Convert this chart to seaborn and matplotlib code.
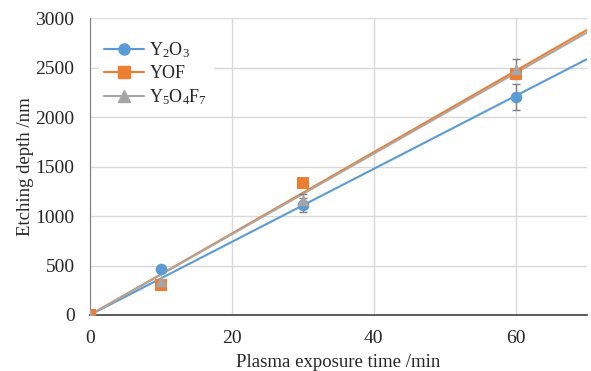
import numpy as np
import pandas as pd
import matplotlib
matplotlib.use("Agg")
import matplotlib.pyplot as plt
from matplotlib.lines import Line2D
import seaborn as sns

# data
time = [0, 10, 30, 60]
y2o3 = [0, 460, 1110, 2200]
y2o3_err = [0, 0, 70, 130]
yof = [0, 300, 1330, 2440]
yof_err = [0, 0, 0, 0]
y5o4f7 = [0, 340, 1160, 2490]
y5o4f7_err = [0, 0, 60, 100]

names = ["Y$_2$O$_3$", "YOF", "Y$_5$O$_4$F$_7$"]
colors = ["#5B9BD5", "#ED7D31", "#A5A5A5"]
line_colors = ["#5B9BD5", "#ED7D31", "#B0A59C"]
markers = ["o", "s", "^"]

sns.set_style("whitegrid")
plt.rcParams['font.family'] = ['Liberation Serif', 'DejaVu Serif']
plt.rcParams['mathtext.fontset'] = 'custom'
plt.rcParams['mathtext.rm'] = 'Liberation Serif'
plt.rcParams['mathtext.it'] = 'Liberation Serif'

fig = plt.figure(figsize=(5.91, 3.71), dpi=100)
ax = fig.add_axes([0.152, 0.151, 0.841, 0.80])

series = [(y2o3, y2o3_err), (yof, yof_err), (y5o4f7, y5o4f7_err)]
x = np.array(time, dtype=float)
xfit = np.array([0, 70.0])
handles = []
for (vals, err), name, c, lc, m in zip(series, names, colors, line_colors, markers):
    v = np.array(vals, dtype=float)
    # linear fit through origin
    slope = (x * v).sum() / (x * x).sum()
    fit = pd.DataFrame({"t": xfit, "d": slope * xfit})
    sns.lineplot(data=fit, x="t", y="d", color=lc, lw=1.5, ax=ax, zorder=2)
    ax.errorbar(x, v, yerr=err, fmt="none", ecolor="#7F7F7F", elinewidth=1,
                capsize=3, capthick=1, zorder=3)
    df = pd.DataFrame({"t": x, "d": v})
    sns.scatterplot(data=df, x="t", y="d", color=c, marker=m, s=70,
                    edgecolor=c, linewidth=0, ax=ax, zorder=4)
    handles.append(Line2D([], [], color=c, marker=m, markersize=8, lw=1.5, label=name))

ax.set_xlim(0, 70)
ax.set_ylim(0, 3000)
ax.set_xticks([0, 20, 40, 60])
ax.set_yticks(range(0, 3001, 500))
ax.grid(True, color="#D9D9D9", lw=1)
for s in ["top", "right"]:
    ax.spines[s].set_visible(False)
ax.spines["left"].set_color("#7F7F7F")
ax.spines["bottom"].set_color("#404040")
ax.spines["bottom"].set_linewidth(1.2)
ax.tick_params(axis="x", labelsize=14, length=0, pad=11)
ax.tick_params(axis="y", labelsize=14, length=0, pad=11)
ax.set_xlabel("Plasma exposure time /min", fontsize=13.5, labelpad=5)
ax.set_ylabel("Etching depth /nm", fontsize=13.5, labelpad=1)

ax.legend(handles=handles, loc="upper left", bbox_to_anchor=(0.0, 0.975),
          frameon=True, facecolor="white", edgecolor="white", framealpha=1,
          fontsize=13, handlelength=2.2, labelspacing=0.3, borderpad=0.3,
          handletextpad=0.3)

fig.savefig("out.png", dpi=100)
